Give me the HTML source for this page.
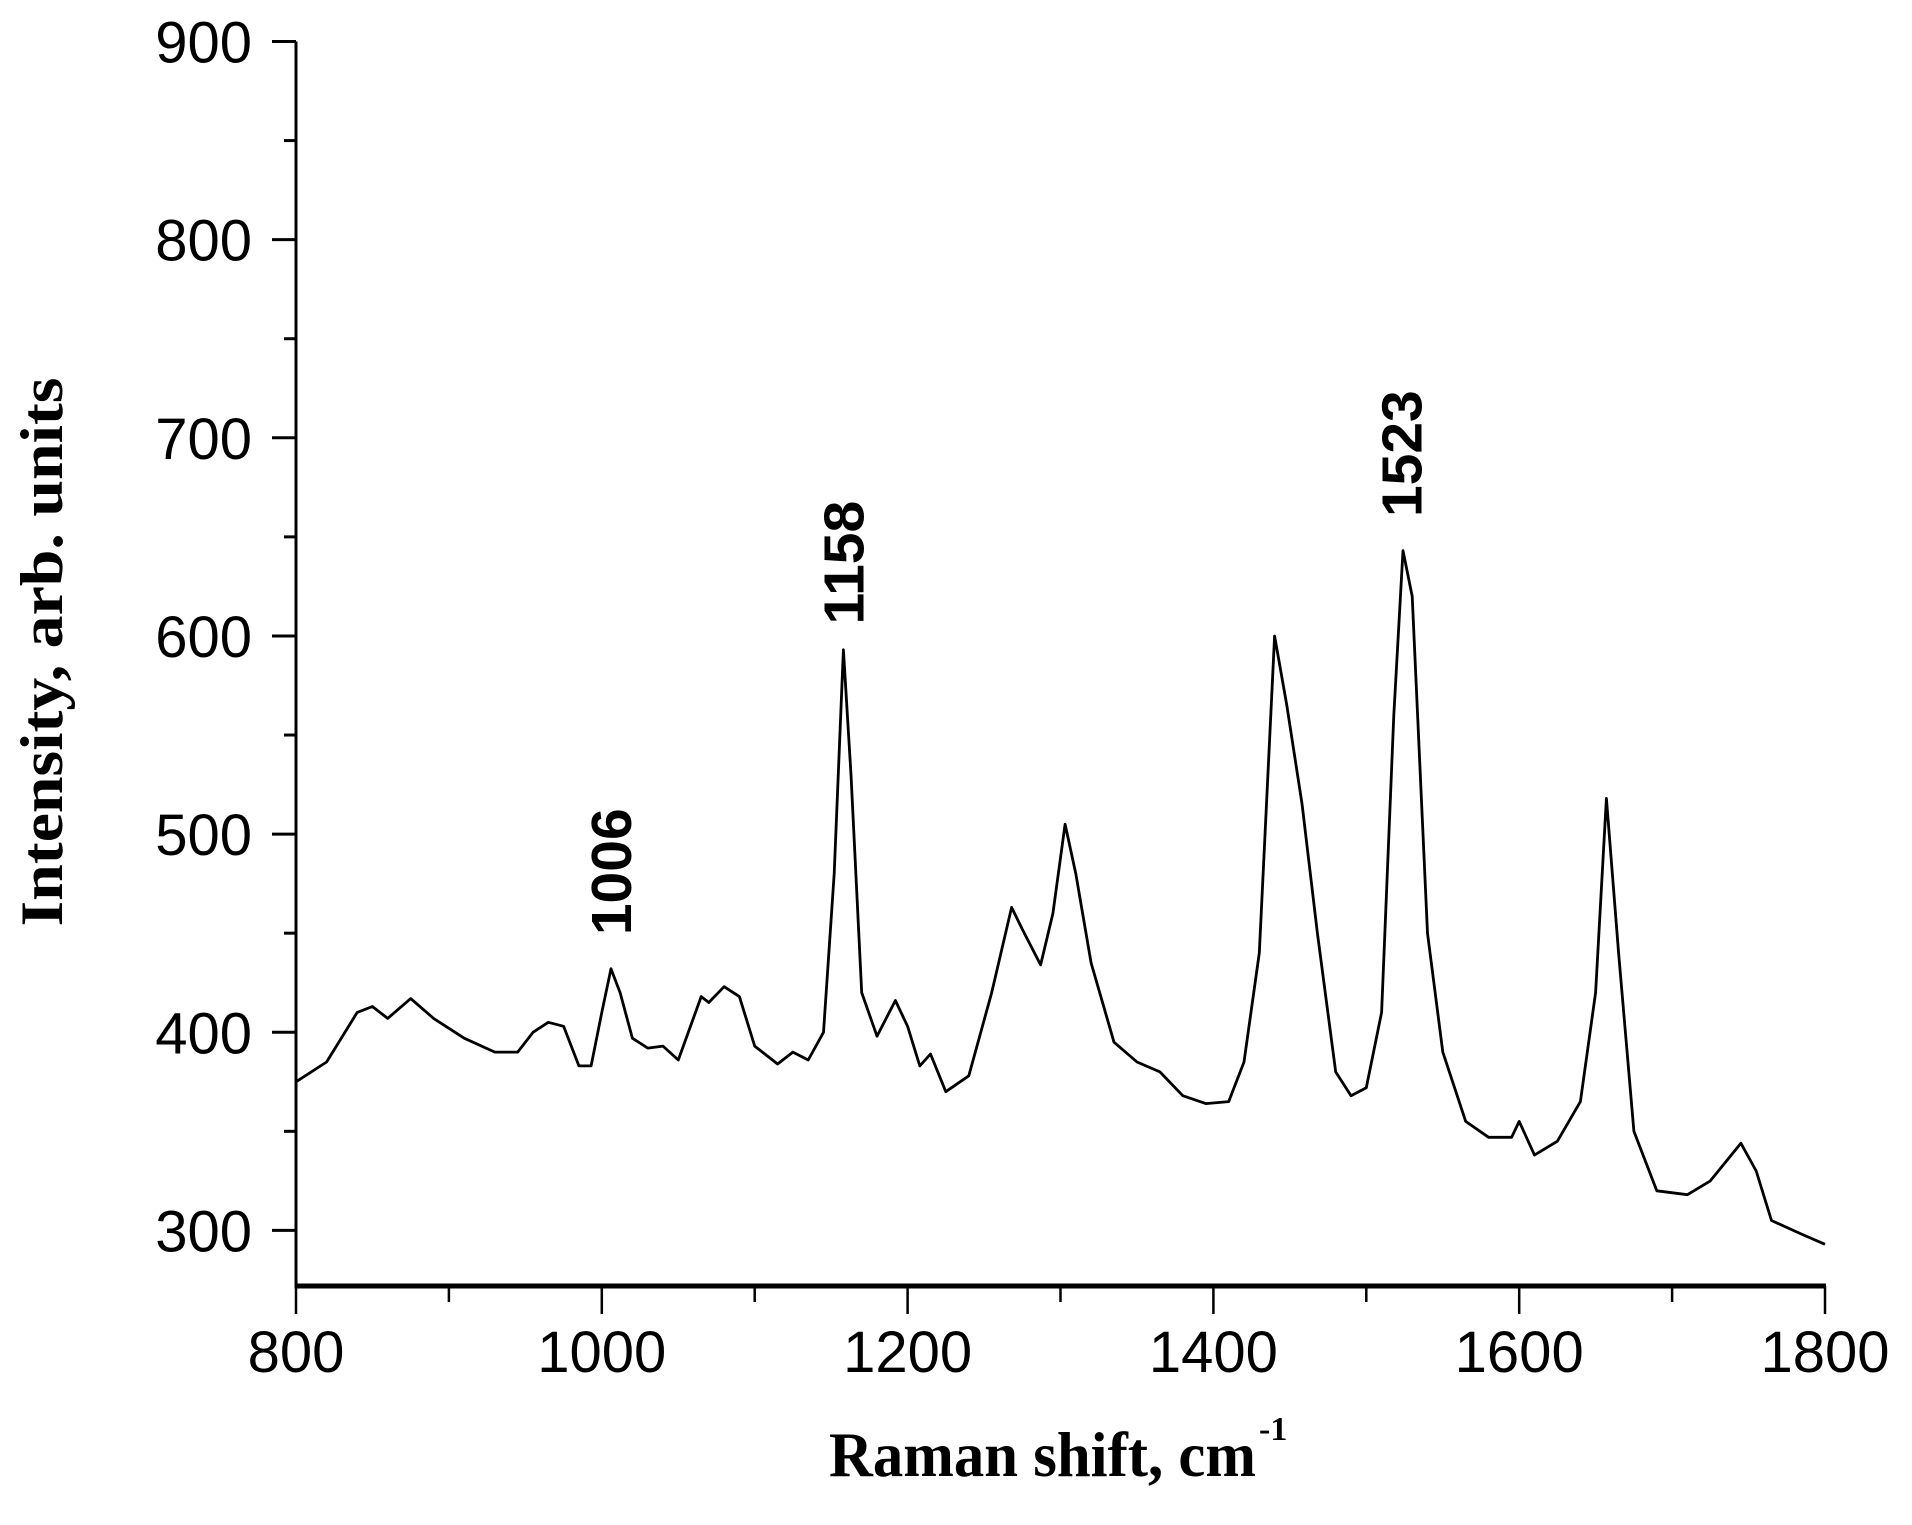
<!DOCTYPE html>
<html><head><meta charset="utf-8"><style>
html,body{margin:0;padding:0;background:#fff;}
svg{display:block;}
</style></head><body>
<svg id="chart" width="1912" height="1525" viewBox="0 0 1912 1525" xmlns="http://www.w3.org/2000/svg">
<g id="axes"></g>
<g id="series"></g>
<g id="labels"></g>
<text transform="translate(62,652) rotate(-90)" text-anchor="middle" textLength="549" lengthAdjust="spacingAndGlyphs" font-family="Liberation Serif, serif" font-weight="bold" font-size="60">Intensity,  arb. units</text>
<text x="829" y="1476" textLength="427" lengthAdjust="spacingAndGlyphs" font-family="Liberation Serif, serif" font-weight="bold" font-size="64">Raman shift, cm</text>
<text x="1259" y="1440" font-family="Liberation Serif, serif" font-weight="bold" font-size="34">-1</text>
</svg>
<script>
const xTicks = [800, 1000, 1200, 1400, 1600, 1800];
const yTicks = [300, 400, 500, 600, 700, 800, 900];
const shifts = [800,820,840,850,860,875,890,910,930,945,955,965,975,985,993,1000,1006,1012,1020,1030,1040,1050,1065,1070,1080,1090,1100,1115,1125,1135,1145,1152,1158,1163,1170,1180,1192,1200,1208,1215,1225,1240,1255,1268,1275,1287,1295,1303,1310,1320,1335,1350,1365,1380,1395,1410,1420,1430,1440,1448,1458,1468,1480,1490,1500,1510,1518,1524,1530,1540,1550,1565,1580,1595,1600,1610,1625,1640,1650,1657,1665,1675,1690,1710,1725,1745,1755,1765,1785,1800];
const intensity = [375,385,410,413,407,417,407,397,390,390,400,405,403,383,383,410,432,420,397,392,393,386,418,415,423,418,393,384,390,386,400,480,593,530,420,398,416,403,383,389,370,378,420,463,452,434,460,505,480,435,395,385,380,368,364,365,385,440,600,565,515,450,380,368,372,410,560,643,620,450,390,355,347,347,355,338,345,365,420,518,440,350,320,318,325,344,330,305,298,293];
const peakPositions = [1006, 1158, 1523];
const peakLabels = ["1006", "1158", "1523"];
const peakLabelValues = [481, 637, 692];

const NS = "http://www.w3.org/2000/svg";
const X0 = 296, X1 = 1825, Y900 = 41.5, Y300 = 1230.4, YB = 1286;
const sx = v => X0 + (v - 800) / 1000 * (X1 - X0);
const sy = v => Y300 - (v - 300) / 600 * (Y300 - Y900);
function mk(tag, attrs, parent){const e=document.createElementNS(NS,tag);for(const k in attrs)e.setAttribute(k,attrs[k]);parent.appendChild(e);return e;}
const axes = document.getElementById('axes');
let e;
e = mk('line',{x1:X0,y1:Y900,x2:X0,y2:YB,stroke:'#000','stroke-width':3},axes);


e = mk('line',{x1:X0-1.5,y1:YB,x2:X1+1,y2:YB,stroke:'#000','stroke-width':5},axes);


for (let v = 800; v <= 1800; v += 100) {
  const major = v % 200 === 0;
  e = mk('line',{x1:sx(v),y1:YB,x2:sx(v),y2:YB+(major?28:16),stroke:'#000','stroke-width':2.5},axes);
  
  
}
xTicks.forEach(v=>{
  e = mk('text',{x:sx(v),y:1372,'text-anchor':'middle','font-family':'Liberation Sans, sans-serif','font-size':58},axes);
  e.textContent = v;
  
  
});
for (let v = 300; v <= 900; v += 50) {
  const major = v % 100 === 0;
  e = mk('line',{x1:X0-(major?24:12),y1:sy(v),x2:X0,y2:sy(v),stroke:'#000','stroke-width':3},axes);
  
  
}
yTicks.forEach(v=>{
  e = mk('text',{x:252,y:sy(v)+21,'text-anchor':'end','font-family':'Liberation Sans, sans-serif','font-size':58},axes);
  e.textContent = v;
  
  
});
const pts = shifts.map((s,i)=>sx(s).toFixed(1)+','+sy(intensity[i]).toFixed(1)).join(' ');
e = mk('polyline',{points:pts,fill:'none',stroke:'#000','stroke-width':2.8,'stroke-linejoin':'round'},document.getElementById('series'));


const labels = document.getElementById('labels');
peakPositions.forEach((p,i)=>{
  const cx = sx(p)+20, cy = sy(peakLabelValues[i]);
  e = mk('text',{transform:`translate(${cx},${cy}) rotate(-90)`,'text-anchor':'middle','font-family':'Liberation Sans, sans-serif','font-weight':'bold','font-size':57},labels);
  e.textContent = peakLabels[i];
  
  
});
</script>
</body></html>
